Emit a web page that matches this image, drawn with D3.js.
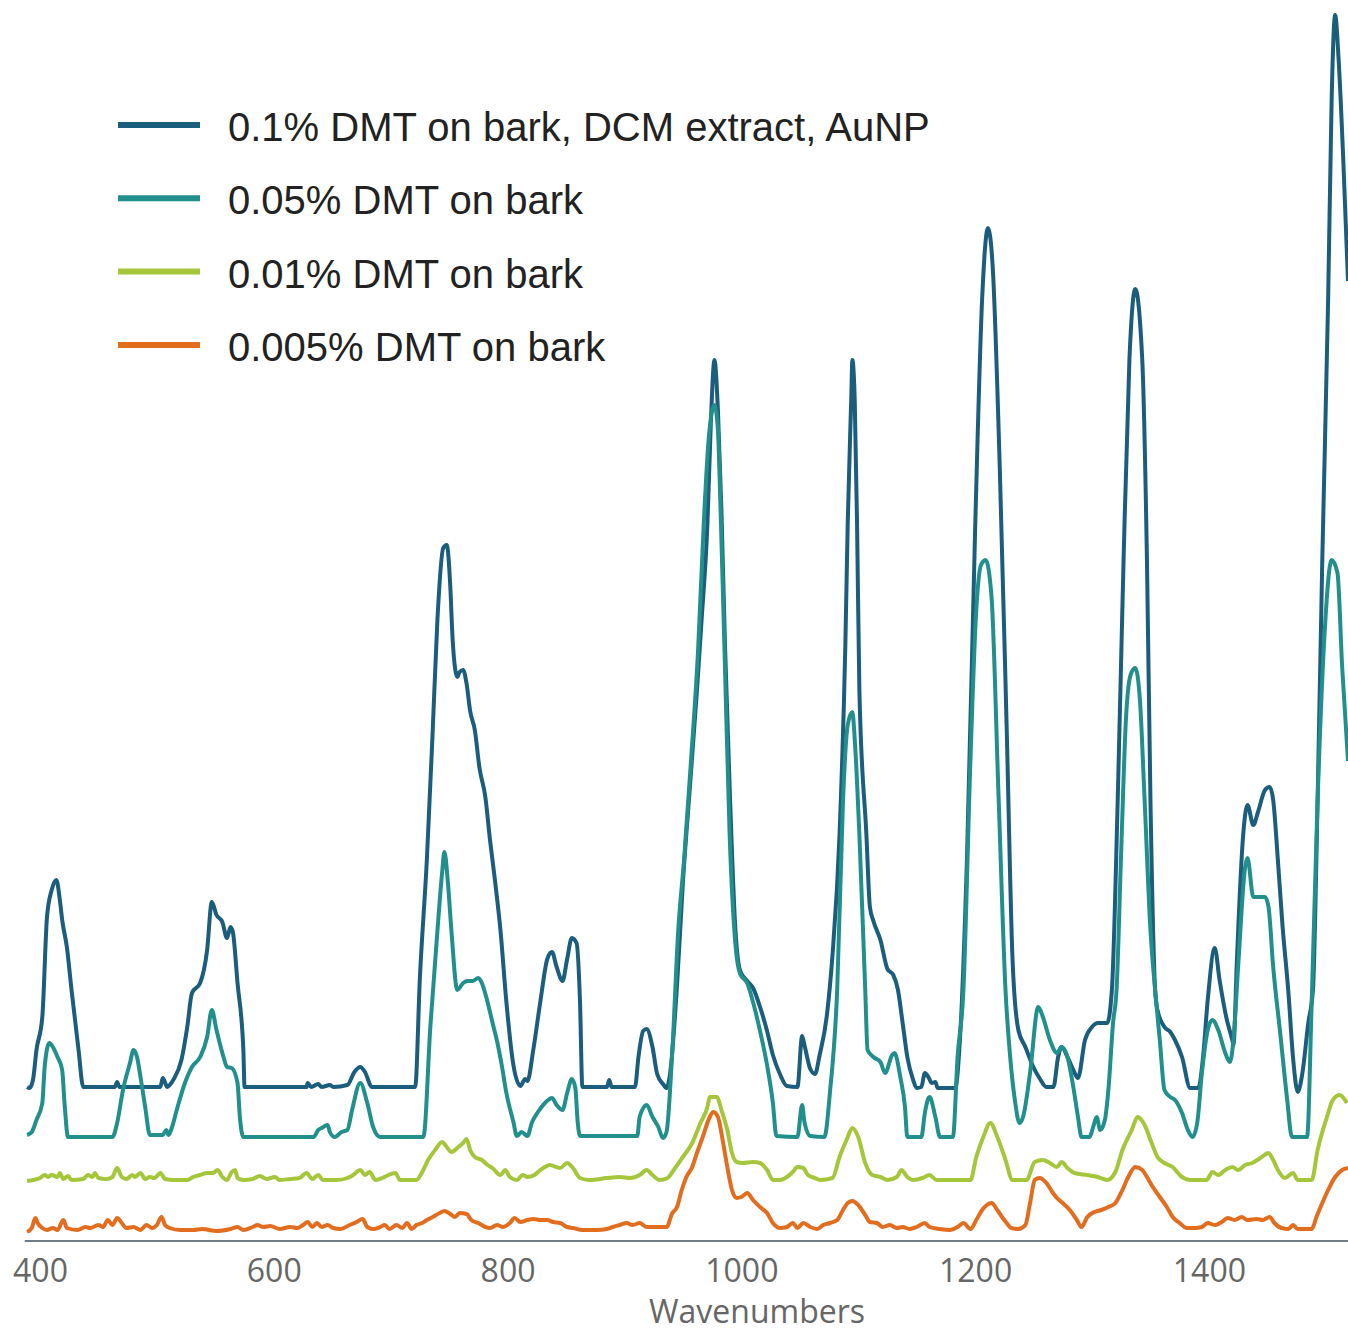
<!DOCTYPE html>
<html lang="en">
<head>
<meta charset="UTF-8">
<title>DMT on bark</title>
<script src="https://cdn.jsdelivr.net/npm/d3@7"></script>
<style>
  body { margin: 0; background: #fff; }
</style>
</head>
<body>
<script>
// spectra: [wavenumber, intensity (a.u.)]
var dmt01 = [[389,154],[391,153],[394,161],[397,191],[402,224],[406,324],[410,351],[414,361],[417,341],[419,321],[423,294],[427,251],[433,191],[437,154],
  [464,154],[466,159],[468,154],[503,154],[505,163],[509,154],[511,156],[514,161],[521,181],[526,214],[530,248],[537,258],[543,291],[547,339],[551,326],[556,319],[560,303],[563,314],[565,309],[569,258],[574,191],[575,154],
  [628,154],[629,158],[632,154],[638,157],[641,154],[648,156],[651,154],[663,156],[669,169],[674,174],[678,169],[684,154],
  [721,154],[725,263],[731,382],[736,511],[740,621],[745,693],[748,696],[751,655],[753,602],[757,564],[759,569],[762,571],[765,557],[768,530],[772,511],[776,473],[781,444],[785,401],[789,363],[794,310],[799,239],[805,176],[811,155],[815,162],[817,160],[822,191],[828,239],[834,282],[838,289],[842,274],[847,260],[851,282],[855,303],[859,298],[862,239],[864,154],
  [885,154],[887,161],[889,154],[909,154],[912,184],[916,210],[919,212],[924,194],[928,167],[933,157],[936,153],[939,167],[945,256],[950,358],[956,454],[962,550],[966,621],[971,717],[974,821],[977,881],[980,830],[983,730],[986,597],[990,454],[995,310],[999,270],[1005,260],[1010,253],[1016,234],[1022,210],[1027,186],[1033,167],[1039,155],
  [1048,154],[1052,205],[1054,196],[1059,172],[1063,167],[1067,186],[1073,224],[1078,286],[1084,406],[1089,597],[1091,717],[1094,841],[1095,881],[1097,841],[1099,717],[1101,550],[1107,406],[1110,334],[1113,320],[1119,301],[1125,272],[1130,266],[1134,251],[1138,218],[1142,184],[1147,161],[1150,153],[1154,154],[1157,168],[1160,164],[1163,158],[1166,159],[1168,153],
  [1183,153],[1187,201],[1193,381],[1200,711],[1206,942],[1211,1013],[1215,975],[1221,777],[1227,513],[1232,282],[1237,211],[1243,194],[1249,176],[1255,163],[1261,154],[1267,154],[1271,184],[1274,194],[1279,184],[1284,171],[1288,163],[1294,201],[1300,214],[1305,218],[1313,218],
  [1317,251],[1322,441],[1327,681],[1332,881],[1337,952],[1343,881],[1347,681],[1350,441],[1354,251],[1356,231],[1362,214],[1367,209],[1371,201],[1377,184],[1384,153],[1391,153],[1395,184],[1399,241],[1405,293],[1409,262],[1415,223],[1420,201],[1421,196],[1424,282],[1429,401],[1433,436],[1438,416],[1442,429],[1448,451],[1452,454],[1455,441],[1459,381],[1463,315],[1468,249],[1472,183],[1476,149],[1480,168],[1485,218],[1489,251],[1493,441],[1497,681],[1502,941],[1505,1141],[1508,1226],[1511,1181],[1515,1080],[1519,960]];

var dmt005 = [[389,106],[393,109],[397,121],[402,138],[404,174],[408,198],[411,194],[415,184],[419,171],[421,138],[424,104],
  [462,104],[466,118],[471,151],[477,178],[480,191],[483,184],[486,164],[490,134],[494,106],[505,106],[508,111],[510,106],[513,114],[517,131],[524,158],[530,174],[537,184],[543,204],[547,231],[551,211],[557,184],[560,174],[564,173],[569,158],[571,124],[574,104],
  [634,104],[638,111],[641,113],[646,116],[648,109],[652,104],[658,109],[663,111],[667,131],[674,158],[680,138],[685,114],[691,104],
  [728,104],[734,215],[740,310],[744,368],[746,389],[749,358],[752,310],[757,251],[762,258],[766,260],[770,260],[775,263],[778,258],[782,243],[787,219],[791,200],[795,176],[799,148],[805,119],[808,105],[812,109],[817,105],[821,119],[826,129],[832,138],[838,143],[842,136],[847,131],[851,148],[855,162],[858,153],[860,119],[862,105],
  [911,105],[913,124],[919,136],[924,124],[929,114],[933,103],[936,109],[941,191],[946,310],[951,381],[957,481],[963,591],[968,721],[972,801],[977,836],[980,811],[982,741],[986,574],[990,406],[995,296],[999,267],[1005,258],[1010,239],[1016,210],[1022,176],[1027,138],[1030,105],
  [1048,104],[1052,136],[1054,119],[1059,105],[1071,104],[1076,151],[1082,251],[1087,441],[1091,516],[1095,529],[1097,502],[1101,406],[1106,251],[1108,191],[1113,184],[1119,179],[1123,168],[1129,186],[1131,188],[1136,164],[1140,134],[1142,104],[1154,104],[1157,128],[1161,144],[1166,124],[1170,104],
  [1181,104],[1185,184],[1190,251],[1196,481],[1201,631],[1205,676],[1209,681],[1214,645],[1220,447],[1226,251],[1230,184],[1234,141],[1238,118],[1241,124],[1247,168],[1254,234],[1258,224],[1264,201],[1270,188],[1274,194],[1279,184],[1284,154],[1288,124],[1291,104],
  [1298,104],[1301,114],[1304,124],[1307,111],[1311,121],[1314,151],[1318,218],[1321,251],[1325,391],[1329,521],[1333,566],[1337,573],[1341,541],[1345,441],[1350,311],[1354,251],[1358,201],[1362,151],[1367,144],[1371,141],[1377,128],[1382,111],[1386,104],[1390,118],[1394,168],[1399,211],[1403,221],[1408,211],[1414,188],[1418,179],[1421,201],[1425,274],[1431,374],[1433,383],[1438,344],[1444,344],[1448,344],[1451,334],[1455,274],[1461,208],[1467,141],[1471,104],
  [1484,104],[1488,241],[1493,441],[1499,608],[1505,681],[1510,668],[1514,574],[1519,480]];

var dmt001 = [[389,60],[394,61],[400,63],[404,66],[407,64],[410,66],[415,64],[417,68],[420,62],[424,65],[427,61],[437,62],[441,66],[445,64],[447,68],[450,63],[457,62],[462,64],[466,73],[470,64],[474,62],[479,66],[481,64],[486,68],[490,62],[494,64],[498,63],[503,68],[507,62],[514,61],
  [526,61],[531,64],[537,66],[543,68],[548,68],[552,71],[556,64],[560,61],[564,69],[567,71],[569,63],[574,61],[582,62],[588,65],[594,62],[601,64],[605,61],[614,62],[622,63],[628,68],[633,62],[638,66],[642,61],
  [654,61],[663,63],[668,66],[674,71],[678,66],[682,69],[687,61],[693,63],[698,66],[704,68],[708,61],[722,61],[727,69],[732,81],[738,91],[744,99],[748,94],[752,89],[758,94],[762,98],[765,102],[768,91],[772,84],[778,81],[783,76],[787,73],[794,66],[798,71],[802,64],[808,61],[813,66],[817,64],[823,66],[828,71],[832,74],[836,76],[845,73],[851,78],[856,73],[862,63],[870,61],
  [885,63],[896,64],[905,63],[913,66],[919,71],[924,66],[930,61],[937,63],[941,69],[950,84],[958,98],[965,118],[971,134],[973,144],[979,144],[983,131],[988,111],[992,88],[996,79],[1001,78],[1010,79],[1016,78],[1022,71],[1027,61],[1033,61],[1039,64],[1044,69],[1048,74],[1053,73],[1057,66],[1063,63],[1067,61],
  [1078,63],[1084,84],[1090,101],[1095,113],[1100,104],[1106,78],[1112,66],[1119,64],[1125,61],[1133,64],[1137,71],[1142,64],[1147,61],[1155,63],[1161,66],[1167,61],[1196,61],[1201,84],[1207,104],[1213,118],[1219,104],[1226,81],[1232,61],
  [1244,61],[1251,79],[1258,81],[1264,78],[1270,74],[1274,79],[1279,73],[1285,68],[1296,66],[1305,64],[1313,61],[1320,69],[1326,91],[1334,111],[1339,124],[1345,116],[1351,98],[1356,84],[1362,78],[1369,74],[1377,64],[1384,61],
  [1398,61],[1403,69],[1408,66],[1414,71],[1420,74],[1425,71],[1431,76],[1437,78],[1444,83],[1451,88],[1455,81],[1459,71],[1465,63],[1472,68],[1476,61],[1488,61],[1493,91],[1501,124],[1506,141],[1512,146],[1518,138]];

var dmt0005 = [[389,9],[393,13],[396,23],[398,18],[402,13],[406,11],[411,13],[415,11],[420,21],[423,13],[432,11],[439,14],[443,13],[450,16],[454,14],[458,21],[462,16],[466,23],[470,18],[474,13],[480,14],[486,11],[491,16],[496,13],[500,16],[504,24],[507,16],[511,13],[520,11],
  [531,11],[539,12],[551,10],[563,12],[569,14],[574,11],[582,14],[586,16],[591,14],[597,15],[605,12],[614,14],[620,13],[625,16],[629,19],[633,14],[637,18],[641,14],[646,16],[651,13],[657,12],[665,16],[671,19],[676,22],[680,14],[685,12],[691,14],[695,16],[699,12],[705,16],[710,13],[714,18],[718,12],
  [722,16],[727,18],[731,21],[736,24],[742,28],[746,30],[751,27],[755,24],[759,28],[765,27],[769,21],[775,18],[781,14],[785,13],[791,16],[796,14],[802,18],[806,23],[811,19],[817,21],[822,22],[828,21],[834,21],[839,19],[845,18],[851,14],[856,13],[864,11],[876,11],[885,12],[890,14],[896,16],[902,18],[907,16],[913,18],[919,14],[924,14],[930,14],[936,14],
  [941,28],[945,34],[949,51],[953,64],[958,74],[962,88],[967,104],[973,124],[976,129],[980,124],[984,101],[988,74],[992,51],[996,43],[1000,44],[1005,48],[1010,41],[1016,34],[1022,28],[1027,18],[1033,13],[1039,14],[1044,18],[1048,13],[1053,18],[1059,14],[1065,12],[1070,16],[1076,18],[1082,21],
  [1087,31],[1091,38],[1095,40],[1100,36],[1106,26],[1110,19],[1116,18],[1121,14],[1127,16],[1133,13],[1138,14],[1144,12],[1150,14],[1157,18],[1161,14],[1170,12],[1178,11],[1185,14],[1190,18],[1196,12],[1201,21],[1206,31],[1210,36],[1214,38],[1219,31],[1223,24],[1227,18],[1231,13],[1237,12],[1243,16],
  [1247,38],[1251,61],[1255,63],[1261,58],[1266,49],[1270,43],[1275,38],[1281,31],[1287,21],[1291,14],[1296,24],[1302,29],[1308,31],[1314,34],[1320,38],[1326,51],[1331,64],[1337,74],[1343,71],[1347,64],[1352,54],[1358,44],[1364,34],[1369,24],[1375,18],[1381,13],[1388,13],[1394,14],[1399,18],[1405,16],
  [1411,19],[1416,23],[1422,21],[1428,24],[1433,21],[1441,22],[1446,21],[1452,24],[1456,18],[1462,13],[1468,12],[1472,16],[1476,12],[1488,12],[1492,24],[1497,38],[1502,51],[1508,64],[1514,71],[1519,73]];

var seriesNames = ["0.1% DMT on bark, DCM extract, AuNP", "0.05% DMT on bark", "0.01% DMT on bark", "0.005% DMT on bark"];
var seriesColors = ["#1b5d7c", "#21908d", "#a5c63b", "#e26d1f"];
var tickValues = [400, 600, 800, 1000, 1200, 1400];

var width = 1348,
    height = 1332,
    axisY = 1241;

var svg = d3.select("body").append("svg")
    .attr("width", width)
    .attr("height", height);

var x = d3.scaleLinear().domain([365.8, 1519]).range([0, width]);
var y = d3.scaleLinear().domain([0, axisY]).range([axisY, 0]);

svg.append("clipPath").attr("id", "plot")
    .append("rect").attr("x", 0).attr("y", 0).attr("width", width).attr("height", axisY);

var line = d3.line()
    .x(function(d) { return x(d[0]); })
    .y(function(d) { return y(d[1]); })
    .curve(d3.curveMonotoneX);

var all = [dmt01, dmt005, dmt001, dmt0005];

svg.append("g").attr("clip-path", "url(#plot)")
    .selectAll("path")
    .data(all)
    .enter()
    .append("path")
    .attr("d", line)
    .attr("fill", "none")
    .attr("stroke", function(d, i) { return seriesColors[i]; })
    .attr("stroke-width", 4)
    .attr("stroke-linejoin", "round");

// axis line starts where the data start
svg.append("line")
    .attr("x1", x(387)).attr("x2", width)
    .attr("y1", axisY).attr("y2", axisY)
    .attr("stroke", "#6d7c86")
    .attr("stroke-width", 2);

var axis = svg.append("g")
    .attr("transform", "translate(0," + axisY + ")")
    .call(d3.axisBottom(x).tickValues(tickValues).tickSize(0).tickPadding(18).tickFormat(d3.format("d")));
axis.select(".domain").remove();
axis.selectAll("text")
    .attr("font-family", "'Open Sans', sans-serif")
    .attr("font-size", 32)
    .attr("fill", "#666");

svg.append("text")
    .attr("x", 757)
    .attr("y", 1323)
    .attr("text-anchor", "middle")
    .attr("font-family", "'Open Sans', sans-serif")
    .attr("font-size", 32)
    .attr("fill", "#666")
    .text("Wavenumbers");

// legend
var legend = svg.selectAll(".leg")
    .data(seriesNames)
    .enter()
    .append("g")
    .attr("class", "leg")
    .attr("transform", function(d, i) { return "translate(118," + (125 + i * 73.3) + ")"; });

legend.append("line")
    .attr("x1", 0).attr("x2", 82)
    .attr("y1", 0).attr("y2", 0)
    .attr("stroke", function(d, i) { return seriesColors[i]; })
    .attr("stroke-width", 6);

legend.append("text")
    .attr("x", 110)
    .attr("y", 16)
    .attr("font-family", "'Liberation Sans', Arial, sans-serif")
    .attr("font-size", 40)
    .attr("fill", "#222")
    .text(function(d) { return d; });
</script>
</body>
</html>
